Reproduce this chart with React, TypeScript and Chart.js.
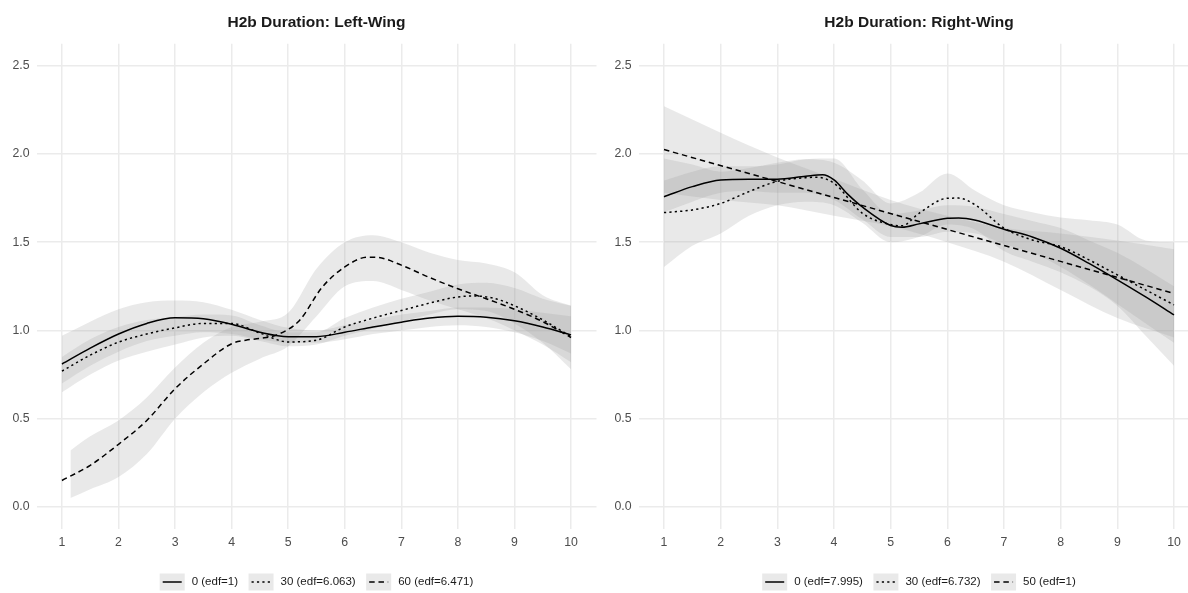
import React, { useEffect, useRef } from "react";
import { Chart, registerables } from "chart.js";

Chart.register(...registerables);

const FONT = "'Liberation Sans', Arial, Helvetica, sans-serif";

// ---------- axis ticks ----------
const X_TICKS = [1, 2, 3, 4, 5, 6, 7, 8, 9, 10];
const Y_TICKS = [0, 0.5, 1.0, 1.5, 2.0, 2.5];

// ---------- left panel (Left-Wing) ----------
const LEFT_TITLE = "H2b Duration: Left-Wing";
const LEFT_LABELS = ["0 (edf=1)", "30 (edf=6.063)", "60 (edf=6.471)"];

const L0_X = [1, 1.5, 2, 2.5, 3, 3.5, 4, 4.5, 5, 5.5, 6, 6.5, 7, 7.5, 8, 8.5, 9, 9.5, 10];
const L0 = [0.81, 0.9, 0.98, 1.04, 1.072, 1.066, 1.035, 0.99, 0.965, 0.965, 0.99, 1.02, 1.047, 1.07, 1.08, 1.075, 1.055, 1.02, 0.975];
const L0_LO = [0.7, 0.8, 0.88, 0.94, 0.97, 0.99, 0.98, 0.95, 0.93, 0.93, 0.95, 0.98, 1.0, 1.02, 1.03, 1.02, 0.99, 0.94, 0.87];
const L0_HI = [0.97, 1.05, 1.12, 1.16, 1.17, 1.16, 1.117, 1.06, 1.015, 1.0, 1.03, 1.06, 1.09, 1.11, 1.13, 1.13, 1.12, 1.1, 1.08];

const L30_X = [1, 1.5, 2, 2.5, 3, 3.5, 4, 4.5, 5, 5.5, 6, 6.5, 7, 7.5, 8, 8.3, 8.6, 9, 9.5, 10];
const L30 = [0.77, 0.86, 0.934, 0.98, 1.015, 1.04, 1.04, 0.985, 0.935, 0.945, 1.02, 1.07, 1.113, 1.155, 1.19, 1.195, 1.185, 1.14, 1.06, 0.965];
const L30_BX = [1, 1.5, 2, 2.5, 3, 3.5, 4, 4.5, 5, 5.5, 6, 6.5, 7, 7.5, 8, 8.5, 9, 9.5, 10];
const L30_LO = [0.65, 0.75, 0.83, 0.88, 0.92, 0.96, 0.97, 0.94, 0.91, 0.92, 0.97, 1.01, 1.05, 1.09, 1.12, 1.11, 1.04, 0.93, 0.78];
const L30_HI = [0.85, 0.95, 1.02, 1.06, 1.075, 1.09, 1.085, 1.03, 0.99, 0.99, 1.07, 1.13, 1.18, 1.22, 1.26, 1.27, 1.24, 1.18, 1.14];

const L60_X = [1, 1.5, 2, 2.5, 3, 3.5, 4, 4.25, 4.5, 4.8, 5.2, 5.6, 6, 6.4, 6.6, 7, 7.5, 8, 8.5, 9, 9.5, 10];
const L60 = [0.15, 0.236, 0.355, 0.49, 0.67, 0.81, 0.925, 0.945, 0.955, 0.975, 1.057, 1.245, 1.36, 1.415, 1.413, 1.37, 1.3, 1.236, 1.18, 1.12, 1.05, 0.96];
const L60_BX = [1.15, 1.5, 2, 2.5, 3, 3.5, 4, 4.5, 5, 5.5, 6, 6.5, 7, 7.5, 8, 8.5, 9, 9.5, 10];
const L60_LO = [0.05, 0.1, 0.17, 0.3, 0.5, 0.65, 0.76, 0.84, 0.91, 1.08, 1.25, 1.28, 1.23, 1.17, 1.12, 1.07, 1.0, 0.92, 0.82];
const L60_HI = [0.32, 0.4, 0.49, 0.62, 0.79, 0.93, 1.02, 1.05, 1.1, 1.35, 1.5, 1.54, 1.5, 1.44, 1.4, 1.38, 1.33, 1.2, 1.14];

// ---------- right panel (Right-Wing) ----------
const RIGHT_TITLE = "H2b Duration: Right-Wing";
const RIGHT_LABELS = ["0 (edf=7.995)", "30 (edf=6.732)", "50 (edf=1)"];

const R0_X = [1, 1.5, 2, 2.5, 3, 3.5, 3.8, 4, 4.25, 4.5, 5, 5.2, 5.5, 6, 6.2, 6.5, 7, 7.5, 8, 8.5, 9, 9.5, 10];
const R0 = [1.758, 1.815, 1.853, 1.857, 1.857, 1.874, 1.882, 1.853, 1.77, 1.7, 1.595, 1.585, 1.604, 1.636, 1.638, 1.625, 1.574, 1.53, 1.466, 1.38, 1.287, 1.19, 1.088];
const R0_BX = [1, 1.5, 2, 2.5, 3, 3.5, 4, 4.5, 5, 5.5, 6, 6.5, 7, 7.5, 8, 8.5, 9, 9.5, 10];
const R0_LO = [1.67, 1.73, 1.78, 1.79, 1.78, 1.78, 1.74, 1.63, 1.53, 1.53, 1.56, 1.55, 1.49, 1.44, 1.36, 1.26, 1.15, 1.04, 0.93];
const R0_HI = [1.85, 1.9, 1.93, 1.93, 1.94, 1.97, 1.975, 1.8, 1.66, 1.68, 1.71, 1.7, 1.66, 1.62, 1.58, 1.51, 1.44, 1.35, 1.25];

const R30_X = [1, 1.5, 2, 2.5, 3, 3.5, 3.7, 4, 4.5, 5, 5.2, 5.5, 6, 6.2, 6.5, 7, 7.5, 8, 8.5, 9, 9.5, 10];
const R30 = [1.668, 1.683, 1.72, 1.787, 1.845, 1.866, 1.868, 1.834, 1.664, 1.6, 1.593, 1.664, 1.749, 1.75, 1.71, 1.58, 1.513, 1.475, 1.4, 1.315, 1.23, 1.145];
const R30_BX = [1, 1.5, 2, 2.5, 3, 3.5, 4, 4.5, 5, 5.5, 6, 6.5, 7, 7.5, 8, 8.5, 9, 9.5, 10];
const R30_LO = [1.36, 1.48, 1.55, 1.65, 1.71, 1.73, 1.71, 1.61, 1.5, 1.53, 1.6, 1.57, 1.45, 1.39, 1.33, 1.25, 1.14, 0.97, 0.8];
const R30_HI = [1.975, 1.94, 1.9, 1.92, 1.95, 1.97, 1.95, 1.85, 1.72, 1.78, 1.89, 1.79, 1.71, 1.67, 1.64, 1.625, 1.6, 1.51, 1.5];

const R50_X = [1, 10];
const R50 = [2.025, 1.21];
const R50_BX = [1, 2, 3, 4, 5, 6, 7, 8, 9, 10];
const R50_LO = [1.78, 1.74, 1.71, 1.65, 1.59, 1.5, 1.39, 1.23, 1.07, 0.96];
const R50_HI = [2.27, 2.12, 1.98, 1.86, 1.74, 1.65, 1.58, 1.55, 1.51, 1.46];

// ---------- styles ----------
const BAND_FILL = "rgba(153,153,153,0.22)";
const GRID = "#ebebeb";
const TICK_COLOR = "#4d4d4d";
const LINE_W = 1.5;
const DASHES: number[][] = [[], [2.2, 3.2], [5.5, 3.8]];

const pts = (xs: number[], ys: number[]) => xs.map((x, i) => ({ x, y: ys[i] }));

type Band = { x: number[]; lo: number[]; hi: number[] };
type Line = { x: number[]; y: number[] };

const titlePlugin = {
  id: "panelTitle",
  afterDraw(chart: any, _args: any, opts: any) {
    const { ctx, chartArea } = chart;
    ctx.save();
    ctx.font = `bold 15.5px ${FONT}`;
    ctx.fillStyle = "#1a1a1a";
    ctx.textAlign = "center";
    ctx.textBaseline = "middle";
    ctx.fillText(opts.text, (chartArea.left + chartArea.right) / 2, 23);
    ctx.restore();
  },
};

const legendPlugin = {
  id: "panelLegend",
  afterDraw(chart: any, _args: any, opts: any) {
    const { ctx, chartArea } = chart;
    const labels: string[] = opts.labels;
    const boxW = 25;
    const boxH = 17;
    const gapBT = 7;
    const gapTB = 10.5;
    ctx.save();
    ctx.font = `11.5px ${FONT}`;
    const widths = labels.map((l) => ctx.measureText(l).width);
    const total =
      widths.reduce((a, b) => a + b, 0) + labels.length * (boxW + gapBT) + (labels.length - 1) * gapTB;
    let x = (chartArea.left + chartArea.right) / 2 - total / 2;
    const cy = 582;
    labels.forEach((l, i) => {
      ctx.fillStyle = "#e9e9e9";
      ctx.fillRect(x, cy - boxH / 2, boxW, boxH);
      ctx.strokeStyle = "#000";
      ctx.lineWidth = LINE_W;
      ctx.setLineDash(DASHES[i]);
      ctx.beginPath();
      ctx.moveTo(x + 3, cy);
      ctx.lineTo(x + boxW - 3, cy);
      ctx.stroke();
      ctx.setLineDash([]);
      ctx.fillStyle = "#1a1a1a";
      ctx.textAlign = "left";
      ctx.textBaseline = "middle";
      ctx.fillText(l, x + boxW + gapBT, cy);
      x += boxW + gapBT + widths[i] + gapTB;
    });
    ctx.restore();
  },
};

function makeChart(
  canvas: HTMLCanvasElement,
  title: string,
  labels: string[],
  lines: Line[],
  bands: Band[],
  axisWidth: number,
  padRight: number
) {
  const datasets: any[] = [];
  bands.forEach((b) => {
    datasets.push({
      data: pts(b.x, b.hi),
      fill: "+1",
      backgroundColor: BAND_FILL,
      borderWidth: 0,
      pointRadius: 0,
      cubicInterpolationMode: "monotone",
    });
    datasets.push({
      data: pts(b.x, b.lo),
      fill: false,
      borderWidth: 0,
      pointRadius: 0,
      cubicInterpolationMode: "monotone",
    });
  });
  lines.forEach((l, i) => {
    datasets.push({
      data: pts(l.x, l.y),
      fill: false,
      borderColor: "#000",
      borderWidth: LINE_W,
      borderDash: DASHES[i],
      pointRadius: 0,
      cubicInterpolationMode: "monotone",
    });
  });

  return new Chart(canvas, {
    type: "line",
    data: { datasets },
    plugins: [titlePlugin, legendPlugin],
    options: {
      animation: false,
      responsive: false,
      devicePixelRatio: 1,
      events: [],
      layout: { padding: { left: 0, right: padRight, top: 43.7, bottom: 0 } },
      plugins: {
        legend: { display: false },
        tooltip: { enabled: false },
        filler: { drawTime: "beforeDatasetsDraw" },
        panelTitle: { text: title },
        panelLegend: { labels },
      } as any,
      scales: {
        x: {
          type: "linear",
          min: 0.55,
          max: 10.45,
          afterBuildTicks: (s: any) => {
            s.ticks = X_TICKS.map((v) => ({ value: v }));
          },
          afterFit: (s: any) => {
            s.height = 64;
          },
          grid: { color: GRID, lineWidth: 1.5, drawTicks: false },
          border: { display: false },
          ticks: {
            autoSkip: false,
            maxRotation: 0,
            padding: 6,
            color: TICK_COLOR,
            font: { family: FONT, size: 12.3 },
            callback: (v: any) => String(v),
          },
        },
        y: {
          type: "linear",
          min: -0.125,
          max: 2.625,
          afterBuildTicks: (s: any) => {
            s.ticks = Y_TICKS.map((v) => ({ value: v }));
          },
          afterFit: (s: any) => {
            s.width = axisWidth;
          },
          grid: { color: GRID, lineWidth: 1.5, drawTicks: false },
          border: { display: false },
          ticks: {
            autoSkip: false,
            padding: 7,
            color: TICK_COLOR,
            font: { family: FONT, size: 12.3 },
            callback: (v: any) => Number(v).toFixed(1),
          },
        },
      },
    } as any,
  });
}

export default function App() {
  const leftRef = useRef<HTMLCanvasElement>(null);
  const rightRef = useRef<HTMLCanvasElement>(null);

  useEffect(() => {
    const left = makeChart(
      leftRef.current!,
      LEFT_TITLE,
      LEFT_LABELS,
      [
        { x: L0_X, y: L0 },
        { x: L30_X, y: L30 },
        { x: L60_X, y: L60 },
      ],
      [
        { x: L0_X, lo: L0_LO, hi: L0_HI },
        { x: L30_BX, lo: L30_LO, hi: L30_HI },
        { x: L60_BX, lo: L60_LO, hi: L60_HI },
      ],
      36.5,
      3.5
    );
    const right = makeChart(
      rightRef.current!,
      RIGHT_TITLE,
      RIGHT_LABELS,
      [
        { x: R0_X, y: R0 },
        { x: R30_X, y: R30 },
        { x: R50_X, y: R50 },
      ],
      [
        { x: R0_BX, lo: R0_LO, hi: R0_HI },
        { x: R30_BX, lo: R30_LO, hi: R30_HI },
        { x: R50_BX, lo: R50_LO, hi: R50_HI },
      ],
      38.5,
      0.5
    );
    return () => {
      left.destroy();
      right.destroy();
    };
  }, []);

  return (
    <div
      style={{
        position: "fixed",
        left: 0,
        top: 0,
        width: 1188,
        height: 593,
        overflow: "hidden",
        background: "#fff",
      }}
    >
      <canvas ref={leftRef} width={600} height={593} style={{ position: "absolute", left: 0, top: 0 }} />
      <canvas ref={rightRef} width={600} height={593} style={{ position: "absolute", left: 600, top: 0 }} />
    </div>
  );
}
